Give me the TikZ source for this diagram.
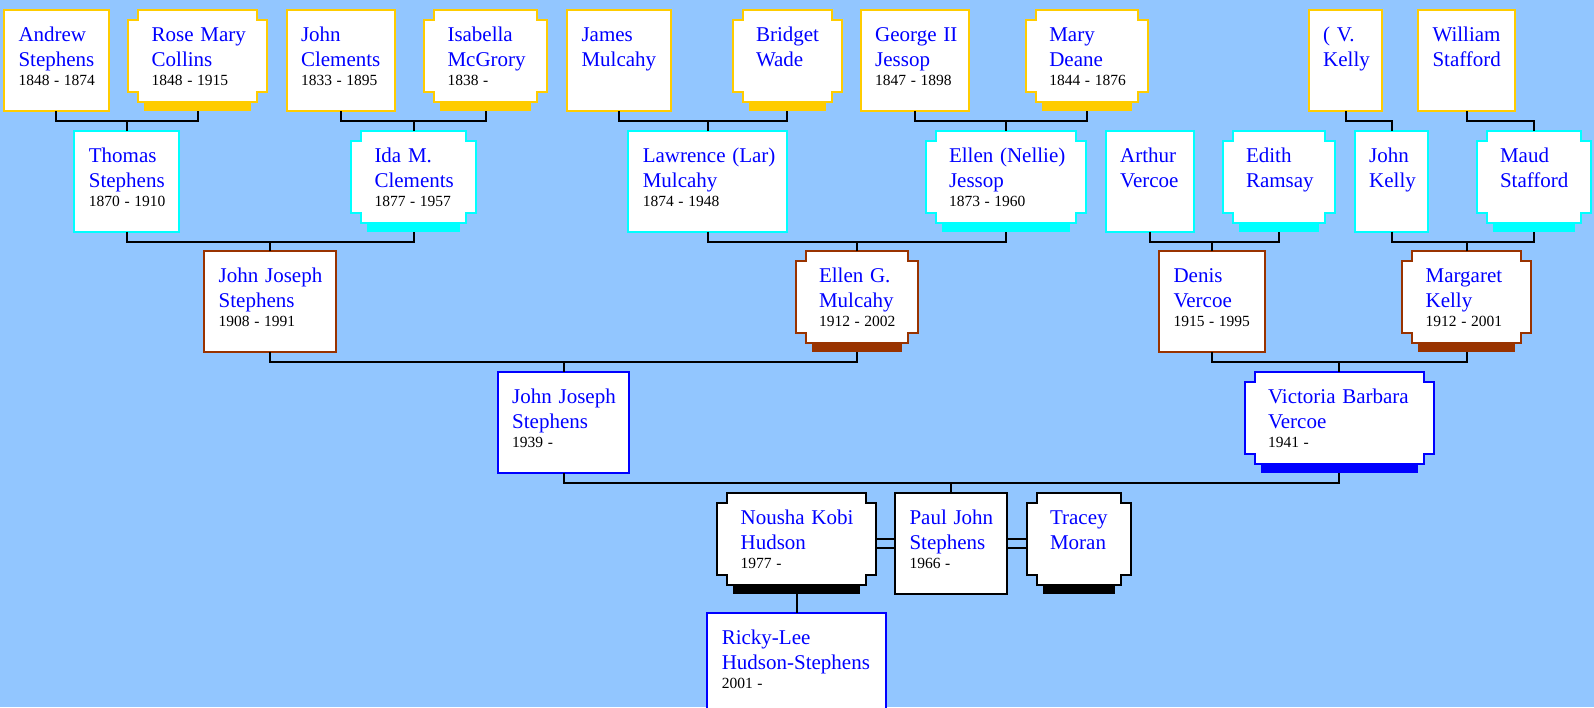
\documentclass[tikz,border=0pt]{standalone}
\usepackage{fontspec}
\setmainfont{Liberation Serif}
\usepackage{tikz}
\usetikzlibrary{calc}
\definecolor{bgblue}{RGB}{146,198,255}
\definecolor{gold}{RGB}{255,204,0}
\definecolor{aqua}{RGB}{0,255,255}
\definecolor{rust}{RGB}{153,51,0}
\definecolor{royal}{RGB}{0,0,255}
\pgfdeclarelayer{back}
\pgfsetlayers{back,main}
\newcommand{\who}[3]{\vtop{\baselineskip=25pt\lineskiplimit=-100pt
  \hbox{\color{royal}\fontsize{21}{25}\selectfont\spaceskip=0.32em #1}
  \hbox{\color{royal}\fontsize{21}{25}\selectfont\spaceskip=0.32em #2}
  \baselineskip=19pt\hbox{\fontsize{15.5}{19}\selectfont\spaceskip=0.3em #3}}}

\begin{document}
\begin{tikzpicture}[x=1pt, y=-1pt,
    every path/.style={line width=2pt},
    person/.style={inner xsep=14.5pt, inner ysep=0pt, outer sep=0pt, text height=31.5pt, text depth=69.5pt, align=left},
    man/.style={person, draw=#1, fill=white, line width=2pt},
    woman/.style={person, inner xsep=23.3pt},
    notch/.style={fill=white, line width=2pt}]
    \begin{pgfonlayer}{back}
      \fill[bgblue] (0,0) rectangle (1594,707);
    \end{pgfonlayer}
    \useasboundingbox (0,0) rectangle (1594,707);
    % great-grandparents
    \node [man=gold, text width=75.5pt] (ast) at (56.25,60.5) {\who{Andrew}{Stephens}{1848 - 1874}};
    \node [woman, text width=92.2pt] (rmc) at (197.8,60.5) {\who{Rose Mary}{Collins}{1848 - 1915}};
    \node [man=gold, text width=79.1pt] (jcl) at (340.55,60.5) {\who{John}{Clements}{1833 - 1895}};
    \node [woman, text width=76.5pt] (imc) at (485.75,60.5) {\who{Isabella}{McGrory}{1838 -}};
    \node [man=gold, text width=74.7pt] (jmu) at (618.85,60.5) {\who{James}{Mulcahy}{}};
    \node [woman, text width=62.4pt] (bwa) at (787.2,60.5) {\who{Bridget}{Wade}{}};
    \node [man=gold, text width=79pt] (gje) at (914.7,60.5) {\who{George II}{Jessop}{1847 - 1898}};
    \node [woman, text width=75.4pt] (mde) at (1087,60.5) {\who{Mary}{Deane}{1844 - 1876}};
    \node [man=gold, text width=44.6pt] (vke) at (1345.5,60.5) {\who{( V.}{Kelly}{}};
    \node [man=gold, text width=68.3pt] (wst) at (1466.65,60.5) {\who{William}{Stafford}{}};
    % grandparents' parents
    \node [man=aqua, text width=76pt] (tst) at (126.9,181.2) {\who{Thomas}{Stephens}{1870 - 1910}};
    \node [woman, text width=78.1pt] (icl) at (413.55,181.2) {\who{Ida M.}{Clements}{1877 - 1957}};
    \node [man=aqua, text width=130pt] (lmu) at (707.8,181.2) {\who{Lawrence (Lar)}{Mulcahy}{1874 - 1948}};
    \node [woman, text width=113.4pt] (eje) at (1005.7,181.2) {\who{Ellen (Nellie)}{Jessop}{1873 - 1960}};
    \node [man=aqua, text width=59.3pt] (ave) at (1149.85,181.2) {\who{Arthur}{Vercoe}{}};
    \node [woman, text width=65.7pt] (era) at (1278.85,181.2) {\who{Edith}{Ramsay}{}};
    \node [man=aqua, text width=44.6pt] (jke) at (1391.5,181.2) {\who{John}{Kelly}{}};
    \node [woman, text width=67.7pt] (mst) at (1533.85,181.2) {\who{Maud}{Stafford}{}};
    % grandparents
    \node [man=rust, text width=102.9pt] (jjs) at (270.15,301.8) {\who{John Joseph}{Stephens}{1908 - 1991}};
    \node [woman, text width=76pt] (egm) at (857,301.8) {\who{Ellen G.}{Mulcahy}{1912 - 2002}};
    \node [man=rust, text width=76.7pt] (dve) at (1211.85,301.8) {\who{Denis}{Vercoe}{1915 - 1995}};
    \node [woman, text width=82.1pt] (mke) at (1466.65,301.8) {\who{Margaret}{Kelly}{1912 - 2001}};
    % parents
    \node [man=royal, text width=102.6pt] (jjt) at (563.5,422.5) {\who{John Joseph}{Stephens}{1939 -}};
    \node [woman, text width=142.4pt] (vbv) at (1339.2,422.5) {\who{Victoria Barbara}{Vercoe}{1941 -}};
    % Paul and partners
    \node [woman, text width=112.1pt] (nkh) at (796.65,543.2) {\who{Nousha Kobi}{Hudson}{1977 -}};
    \node [man=black, text width=83.3pt] (pjs) at (951.15,543.2) {\who{Paul John}{Stephens}{1966 -}};
    \node [woman, text width=57.4pt] (tmo) at (1078.7,543.2) {\who{Tracey}{Moran}{}};
    \node [man=royal, text width=149.7pt] (rhs) at (796.65,663.8) {\who{Ricky-Lee}{Hudson-Stephens}{2001 -}};

    \begin{pgfonlayer}{back}
      \foreach \n/\c in {rmc/gold, imc/gold, bwa/gold, mde/gold, icl/aqua, eje/aqua, era/aqua, mst/aqua,
                         egm/rust, mke/rust, vbv/royal, nkh/black, tmo/black} {
        \draw[notch, draw=\c] ($(\n.north west)+(10,0)$) -- ($(\n.north east)+(-10,0)$) -- ++(0,10) -- ++(10,0)
          -- ($(\n.south east)+(0,-19)$) -- ++(-10,0) -- ++(0,10) -- ($(\n.south west)+(10,-9)$)
          -- ++(0,-10) -- ++(-10,0) -- ($(\n.north west)+(0,10)$) -- ++(10,0) -- cycle;
        \fill[\c] ($(\n.south west)+(16,-9)$) rectangle ($(\n.south east)+(-16,0)$);
      }
    \end{pgfonlayer}

    \draw (ast.south) -- ++(0,9.85) -| (rmc.south);
    \draw (tst.north) -- ++(0,-9.85);
    \draw (jcl.south) -- ++(0,9.85) -| (imc.south);
    \draw (icl.north) -- ++(0,-9.85);
    \draw (jmu.south) -- ++(0,9.85) -| (bwa.south);
    \draw (lmu.north) -- ++(0,-9.85);
    \draw (gje.south) -- ++(0,9.85) -| (mde.south);
    \draw (eje.north) -- ++(0,-9.85);
    \draw (vke.south) -- ++(0,9.85) -| (jke.north);
    \draw (wst.south) -- ++(0,9.85) -| (mst.north);
    \draw (tst.south) -- ++(0,9.85) -| (icl.south);
    \draw (jjs.north) -- ++(0,-9.85);
    \draw (lmu.south) -- ++(0,9.85) -| (eje.south);
    \draw (egm.north) -- ++(0,-9.85);
    \draw (ave.south) -- ++(0,9.85) -| (era.south);
    \draw (dve.north) -- ++(0,-9.85);
    \draw (jke.south) -- ++(0,9.85) -| (mst.south);
    \draw (mke.north) -- ++(0,-9.85);
    \draw (jjs.south) -- ++(0,9.85) -| (egm.south);
    \draw (jjt.north) -- ++(0,-9.85);
    \draw (dve.south) -- ++(0,9.85) -| (mke.south);
    \draw (vbv.north) -- ++(0,-9.85);
    \draw (jjt.south) -- ++(0,9.85) -| (vbv.south);
    \draw (pjs.north) -- ++(0,-9.85);
    \draw ([yshift=4.7pt]nkh.east) -- ([yshift=4.7pt]pjs.west);
    \draw ([yshift=-4.7pt]nkh.east) -- ([yshift=-4.7pt]pjs.west);
    \draw ([yshift=4.7pt]pjs.east) -- ([yshift=4.7pt]tmo.west);
    \draw ([yshift=-4.7pt]pjs.east) -- ([yshift=-4.7pt]tmo.west);
    \draw (nkh.south) -- (rhs.north);
\end{tikzpicture}
\end{document}
